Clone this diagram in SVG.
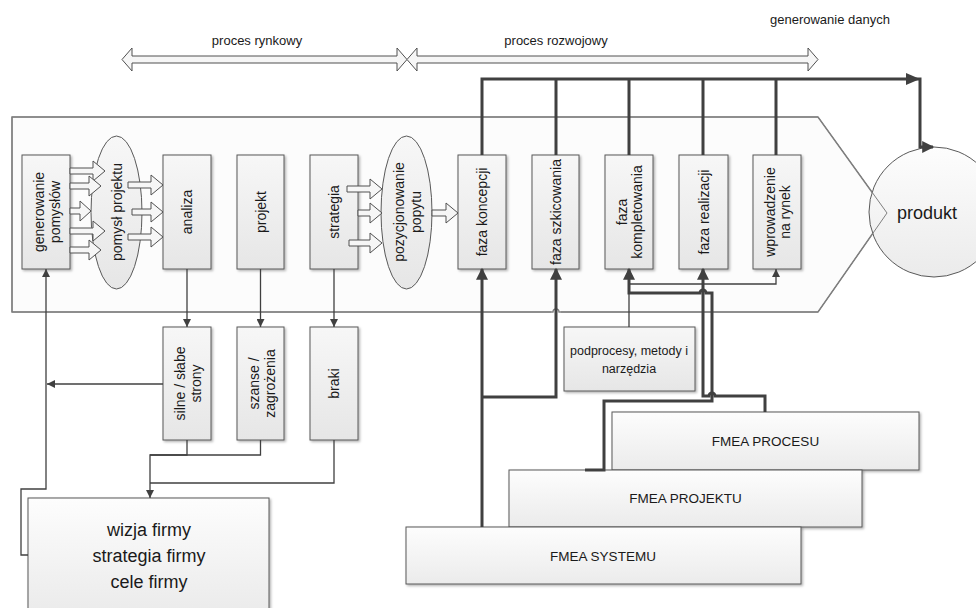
<svg xmlns="http://www.w3.org/2000/svg" width="976" height="608" viewBox="0 0 976 608">
<style>
.box{fill:url(#gb);stroke:#595959;stroke-width:1;filter:url(#sh)}
.fm{fill:url(#gf);stroke:#595959;stroke-width:1;filter:url(#sh)}
.ell{fill:url(#gb);stroke:#595959;stroke-width:1}
.t{font-family:"Liberation Sans",Arial,sans-serif;font-size:14px;fill:#1a1a1a;text-anchor:middle}
.thin{fill:none;stroke:#404040;stroke-width:1.3}
.thick{fill:none;stroke:#404040;stroke-width:3}
.ba{fill:#f6f6f6;stroke:#505050;stroke-width:1}
</style>
<defs>
<linearGradient id="gb" x1="0" y1="0" x2="0" y2="1"><stop offset="0" stop-color="#f7f7f7"/><stop offset="1" stop-color="#e6e6e6"/></linearGradient>
<linearGradient id="gf" x1="0" y1="0" x2="0" y2="1"><stop offset="0" stop-color="#fdfdfd"/><stop offset="1" stop-color="#ebebeb"/></linearGradient>
<filter id="sh" x="-10%" y="-10%" width="130%" height="130%"><feDropShadow dx="1.5" dy="1.5" stdDeviation="0.8" flood-color="#000" flood-opacity="0.3"/></filter>
<marker id="ah" viewBox="0 0 10 10" refX="10" refY="5" markerWidth="8" markerHeight="8" markerUnits="userSpaceOnUse" orient="auto"><path d="M0,0 L10,5 L0,10 z" fill="#404040"/></marker>
<marker id="AH" viewBox="0 0 10 10" refX="9" refY="5" markerWidth="13" markerHeight="12" markerUnits="userSpaceOnUse" orient="auto"><path d="M0,0 L10,5 L0,10 z" fill="#404040"/></marker>
</defs>

<!-- container -->
<g id="container">
<polygon points="12,117 818,117 887,213 818,312 12,312" fill="#fcfcfc" stroke="#7f7f7f" stroke-width="1.5"/>
</g>
<g id="produkt">
<circle cx="934" cy="212" r="65" fill="url(#gf)" stroke="#595959" stroke-width="1"/>
<polygon points="12,117 818,117 887,213 818,312 12,312" fill="none" stroke="#7f7f7f" stroke-width="1"/>
<text class="t" x="927" y="219" style="font-size:18px">produkt</text>
</g>

<!-- top labels and process arrows -->
<g id="process-arrows">
<polygon class="ba" points="122,59.5 132,48 132,56 397,56 397,48 407,59.5 397,71 397,63 132,63 132,71"/>
<polygon class="ba" points="407,59.5 417,48 417,56 808,56 808,48 818,59.5 808,71 808,63 417,63 417,71"/>
<text class="t" x="257" y="45" style="font-size:13px">proces rynkowy</text>
<text class="t" x="556" y="45" style="font-size:13px">proces rozwojowy</text>
<text class="t" x="830" y="24" style="font-size:13px">generowanie danych</text>
</g>

<!-- nodes -->
<g id="n-generowanie"><rect class="box" x="22" y="155" width="48" height="114"/>
<text class="t" transform="translate(46,212) rotate(-90)"><tspan x="0" y="-2">generowanie</tspan><tspan x="0" y="14">pomysłów</tspan></text></g>
<g id="n-pomysl"><ellipse class="ell" cx="116.5" cy="212.5" rx="25.5" ry="76.5"/>
<text class="t" transform="translate(117,212) rotate(-90)" y="5">pomysł projektu</text></g>
<g id="n-analiza"><rect class="box" x="163" y="155" width="48" height="114"/>
<text class="t" transform="translate(187,212) rotate(-90)" y="5">analiza</text></g>
<g id="n-projekt"><rect class="box" x="237" y="155" width="47" height="114"/>
<text class="t" transform="translate(260.5,212) rotate(-90)" y="5">projekt</text></g>
<g id="n-strategia"><rect class="box" x="310" y="155" width="48" height="114"/>
<text class="t" transform="translate(334,212) rotate(-90)" y="5">strategia</text></g>
<g id="n-pozycjonowanie"><ellipse class="ell" cx="406.5" cy="212.5" rx="25.5" ry="76.5"/>
<text class="t" transform="translate(406.5,212) rotate(-90)"><tspan x="0" y="-3">pozycjonowanie</tspan><tspan x="0" y="14">popytu</tspan></text></g>
<g id="n-koncepcji"><rect class="box" x="458" y="155" width="48" height="114"/>
<text class="t" transform="translate(482,212) rotate(-90)" y="5">faza koncepcji</text></g>
<g id="n-szkicowania"><rect class="box" x="532" y="155" width="47" height="114"/>
<text class="t" transform="translate(555.5,212) rotate(-90)" y="5">faza szkicowania</text></g>
<g id="n-kompletowania"><rect class="box" x="605" y="155" width="48" height="114"/>
<text class="t" transform="translate(629,212) rotate(-90)"><tspan x="0" y="-2">faza</tspan><tspan x="0" y="13">kompletowania</tspan></text></g>
<g id="n-realizacji"><rect class="box" x="679" y="155" width="49" height="114"/>
<text class="t" transform="translate(703.5,212) rotate(-90)" y="5">faza realizacji</text></g>
<g id="n-wprowadzenie"><rect class="box" x="753" y="155" width="48" height="114"/>
<text class="t" transform="translate(777,212) rotate(-90)"><tspan x="0" y="-2">wprowadzenie</tspan><tspan x="0" y="13">na rynek</tspan></text></g>

<g id="n-silne"><rect class="box" x="163" y="327" width="48" height="113"/>
<text class="t" transform="translate(187,383.5) rotate(-90)"><tspan x="0" y="-2">silne / słabe</tspan><tspan x="0" y="14">strony</tspan></text></g>
<g id="n-szanse"><rect class="box" x="237" y="327" width="47" height="113"/>
<text class="t" transform="translate(260.5,383.5) rotate(-90)"><tspan x="0" y="-2">szanse /</tspan><tspan x="0" y="14">zagrożenia</tspan></text></g>
<g id="n-braki"><rect class="box" x="310" y="327" width="48" height="113"/>
<text class="t" transform="translate(334,383.5) rotate(-90)" y="5">braki</text></g>

<g id="n-wizja"><rect class="fm" x="28" y="498" width="241" height="114"/>
<text class="t" style="font-size:18px"><tspan x="149" y="536">wizja firmy</tspan><tspan x="149" y="562">strategia firmy</tspan><tspan x="149" y="588">cele firmy</tspan></text></g>

<g id="n-podprocesy"><rect class="box" x="564" y="327" width="131" height="64"/>
<text class="t" style="font-size:12.5px"><tspan x="629" y="355">podprocesy, metody i</tspan><tspan x="629" y="373">narzędzia</tspan></text></g>

<g id="n-fmea-procesu"><rect class="fm" x="612" y="412" width="307" height="58"/>
<text class="t" x="765.5" y="446" style="font-size:13.5px">FMEA PROCESU</text></g>
<g id="n-fmea-projektu"><rect class="fm" x="509" y="470" width="353" height="57"/>
<text class="t" x="685.5" y="503" style="font-size:13.5px">FMEA PROJEKTU</text></g>
<g id="n-fmea-systemu"><rect class="fm" x="406" y="527" width="395" height="57"/>
<text class="t" x="603" y="561" style="font-size:13.5px">FMEA SYSTEMU</text></g>

<!-- connectors -->
<g id="connectors">
<!-- block arrows -->
<polygon class="ba" points="70,168 93,168 93,161 105,171 93,181 93,174 70,174"/>
<polygon class="ba" points="70,183 89,183 89,176 101,186 89,196 89,189 70,189"/>
<polygon class="ba" points="70,208 80,208 80,201 91,211 80,221 80,214 70,214"/>
<polygon class="ba" points="70,228 93,228 93,221 105,231 93,241 93,234 70,234"/>
<polygon class="ba" points="70,247 89,247 89,240 101,250 89,260 89,253 70,253"/>

<polygon class="ba" points="128,182 151,182 151,175 163,185 151,195 151,188 128,188"/>
<polygon class="ba" points="132,209 151,209 151,202 163,212 151,222 151,215 132,215"/>
<polygon class="ba" points="128,234 151,234 151,227 163,237 151,247 151,240 128,240"/>

<polygon class="ba" points="347,186 370,186 370,179 382,189 370,199 370,192 347,192"/>
<polygon class="ba" points="358,210 370,210 370,203 382,213 370,223 370,216 358,216"/>
<polygon class="ba" points="349,240 370,240 370,233 382,243 370,253 370,246 349,246"/>

<polygon class="ba" points="432,210 446,210 446,203 458,213 446,223 446,216 432,216"/>

<!-- thin connectors -->
<path class="thin" d="M187,269 V327" marker-end="url(#ah)"/>
<path class="thin" d="M260.5,269 V327" marker-end="url(#ah)"/>
<path class="thin" d="M334,269 V327" marker-end="url(#ah)"/>
<path class="thin" d="M163,384 H47" marker-end="url(#ah)"/>
<path class="thin" d="M28,555 H21 V489 H46 V269" marker-end="url(#ah)"/>
<path class="thin" d="M187,440 V455 H150 V498" marker-end="url(#ah)"/>
<path class="thin" d="M260.5,440 V455 H150"/>
<path class="thin" d="M334,440 V483 H150"/>
<path class="thin" d="M629,327 V269" marker-end="url(#ah)"/>
<path class="thin" d="M629,284 H776 V269" marker-end="url(#ah)"/>

<!-- line hop on container edge -->
<rect x="551" y="310" width="10" height="4" fill="#fff"/>
<path d="M551,312 H553 A3,3 0 0 1 559,312 H561" fill="none" stroke="#7f7f7f" stroke-width="1.3"/>

<!-- thick data lines -->
<path class="thick" d="M482,155 V79 H920 V147 H933" marker-end="url(#AH)"/>
<polygon points="906,73 920,79 906,85" fill="#404040"/>
<path class="thick" d="M556,155 V79 M629,155 V79 M703,155 V79 M776,155 V79"/>

<path class="thick" d="M482,527 V269" marker-end="url(#AH)"/>
<path class="thick" d="M482,397 H556 V269" marker-end="url(#AH)"/>
<path class="thick" d="M765,412 V396 H715 A3,3 0 0 0 709,396 H703 V269" marker-end="url(#AH)"/>
<path class="thick" d="M585,470 H604 V401 H712 V293 H706 A3,3 0 0 0 700,293 H629 V269" marker-end="url(#AH)"/>
</g>
</svg>
